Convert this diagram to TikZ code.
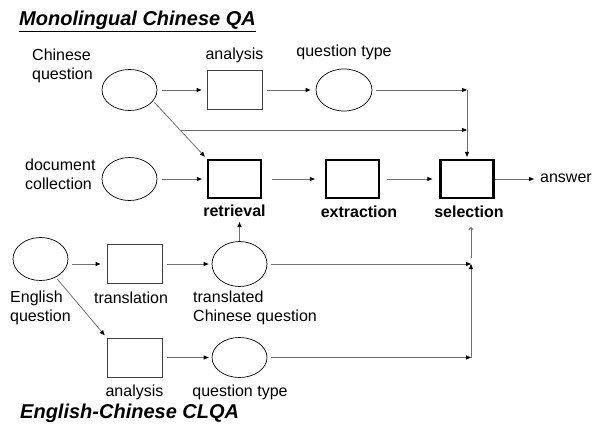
\documentclass[tikz,border=0pt]{standalone}
\usepackage{fontspec}
\setmainfont{Liberation Sans}
\usetikzlibrary{arrows.meta,shapes.geometric,intersections,calc}
\definecolor{linec}{HTML}{707070}
\begin{document}
\begin{tikzpicture}[x=1pt,y=-1pt,
  lbl/.style={font=\fontsize{16}{19}\selectfont, inner sep=0pt},
  blbl/.style={font=\fontsize{16}{19}\selectfont\bfseries, inner sep=0pt},
  ttl/.style={font=\fontsize{20}{24}\selectfont\bfseries\itshape, inner sep=0pt, anchor=west},
  ell/.style={ellipse, draw=black, line width=0.7pt, minimum width=55pt, minimum height=41pt, inner sep=0pt},
  pbox/.style={rectangle, draw=black!75, line width=0.8pt, minimum width=55pt, minimum height=39pt, inner sep=0pt},
  tbox/.style={rectangle, draw=black, line width=2.2pt, minimum width=53pt, minimum height=38pt, inner sep=0pt},
  ln/.style={draw=linec, line width=0.8pt},
  arr/.style={ln, -{Triangle[length=5pt,width=4pt,color=black]}},
  oarr/.style={ln, -{To[length=3pt,width=5pt]}},
]
\fill[white] (0,0) rectangle (595,432);
\useasboundingbox (0,0) rectangle (595,432);

% titles
\node[ttl] (t1) at (19,21) {\underline{Monolingual Chinese QA}};
\node[ttl] (t2) at (20,413) {English-Chinese CLQA};

% monolingual part
\node[ell] (cq) at (129.5,90) {};
\node[pbox] (an1) at (234.5,90) {};
\node[ell, minimum width=56pt, minimum height=42pt] (qt1) at (344,90) {};
\node[ell, minimum height=43pt] (dc) at (129.5,179) {};
\node[tbox] (ret) at (234.5,179) {};
\node[tbox] (ext) at (352.5,179) {};
\node[tbox] (sel) at (467,179) {};

% cross-lingual part
\node[ell, minimum height=43pt] (eq) at (40.5,259) {};
\node[pbox] (tr) at (134.5,264) {};
\node[ell, minimum height=45pt] (tcq) at (239.5,264) {};
\node[pbox] (an2) at (134.5,357.5) {};
\node[ell, minimum height=40pt] (qt2) at (239.5,357.5) {};

% labels
\node[lbl, anchor=west, align=left] (cql) at (32,66) {Chinese\\question};
\node[lbl] (an1l) at (234.5,55) {analysis};
\node[lbl] (qt1l) at (344,52) {question type};
\node[lbl, anchor=west, align=left] (dcl) at (25,174) {document\\collection};
\node[blbl] (retl) at (234.5,211) {retrieval};
\node[blbl] (extl) at (359,212) {extraction};
\node[blbl] (sell) at (469,212) {selection};
\node[lbl, anchor=west] (ans) at (540,178) {answer};
\node[lbl, anchor=west, align=left] (eql) at (10,308) {English\\question};
\node[lbl] (trl) at (131,298) {translation};
\node[lbl, anchor=west, align=left] (tcql) at (193,308) {translated\\Chinese question};
\node[lbl] (an2l) at (134.5,392) {analysis};
\node[lbl] (qt2l) at (240,392) {question type};

% junctions
\coordinate (j1) at (sel.north |- qt1.east);
\coordinate (j3) at (471,264);
\coordinate (j4) at (471,357.5);
\coordinate (u1) at (471,258);
\coordinate (u2) at (471,227);

% connectors, monolingual
\draw[arr, shorten <=5pt, shorten >=5pt] (cq) -- (an1);
\draw[arr, shorten <=5pt, shorten >=5pt] (an1) -- (qt1);
\draw[arr, shorten <=4pt] (qt1) -- (j1);
\draw[arr, shorten >=2pt] (j1) -- (sel.north);
\draw[arr, shorten <=2pt, shorten >=3pt] (cq.-25) -- (ret.north west);
\path[name path=diag] (cq.-25) -- (ret.north west);
\path[name path=hl] (0,130) -- (595,130);
\path[name intersections={of=diag and hl, by=b}];
\coordinate (j2) at (j1 |- b);
\draw[arr] (b) -- (j2);
\draw[arr, shorten <=5pt, shorten >=5pt] (dc) -- (ret);
\draw[arr, shorten <=10pt, shorten >=10pt] (ret) -- (ext);
\draw[arr, shorten <=7pt, shorten >=7pt] (ext) -- (sel);
\draw[arr, shorten >=6pt] (sel) -- (ans.west |- sel.east);

% connectors, cross-lingual
\draw[arr, shorten <=4pt, shorten >=6pt] (eq.east |- tr.west) -- (tr.west);
\draw[arr, shorten <=5pt, shorten >=3pt] (tr) -- (tcq);
\draw[arr, shorten <=4pt] (tcq) -- (j3);
\draw[arr, shorten >=5pt] (tcq.north) -- (tcq.north |- retl.south);
\draw[arr, shorten <=2pt, shorten >=3pt] (eq.-50) -- (an2.north west);
\draw[arr, shorten <=5pt, shorten >=3pt] (an2) -- (qt2);
\draw[arr, shorten <=4pt] (qt2) -- (j4);
\draw[arr] (j4) -- (j3);
\draw[oarr] (u1) -- (u2);
\end{tikzpicture}
\end{document}
